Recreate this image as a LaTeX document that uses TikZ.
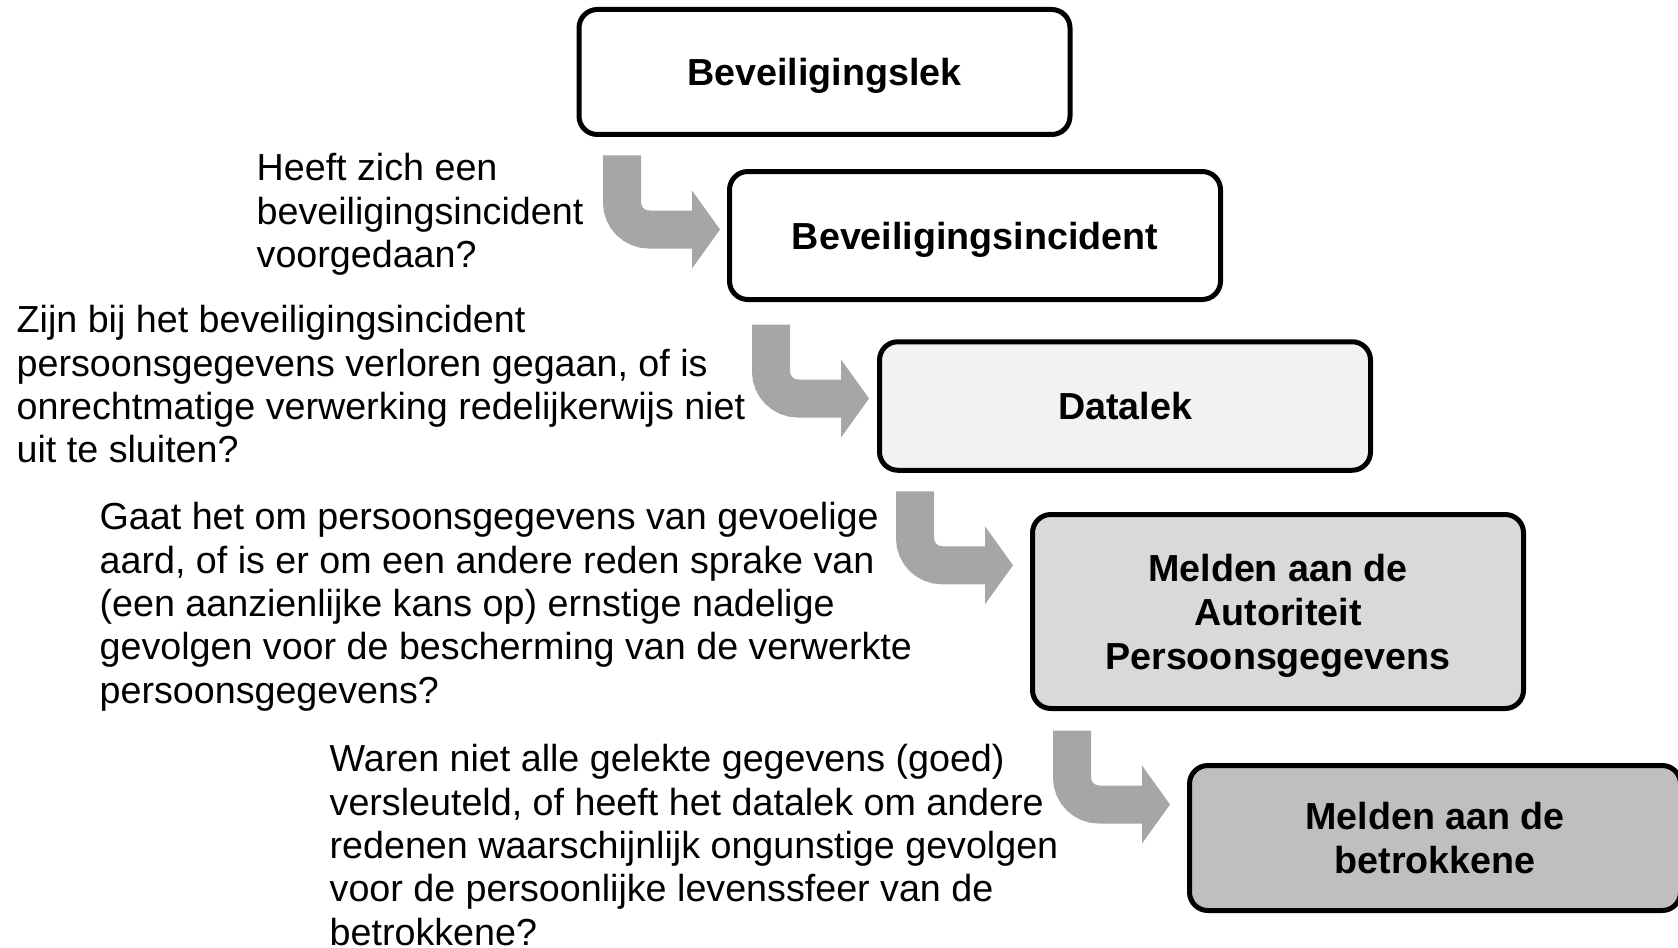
\documentclass[tikz,border=0pt]{standalone}
\usepackage{fontspec}
\setmainfont{Liberation Sans}
\usepackage{xcolor}
\usetikzlibrary{calc,positioning}
\definecolor{arrowgray}{HTML}{A6A6A6}
\definecolor{fillone}{HTML}{F2F2F2}
\definecolor{filltwo}{HTML}{D9D9D9}
\definecolor{fillthree}{HTML}{BFBFBF}
\tikzstyle{stepbox} = [rectangle, rounded corners=5.5pt, minimum width=147.3pt, text centered, align=center, text depth=0pt, draw=black, line width=1.5pt, fill=white, font=\fontsize{11.3pt}{13.2pt}\selectfont\bfseries]
\tikzstyle{question} = [anchor=north west, inner sep=0pt, align=left, font=\fontsize{11.3pt}{13pt}\selectfont]
\tikzstyle{flow} = [draw=arrowgray, line width=11.4pt, rounded corners=8.1pt]
\tikzstyle{flowhead} = [fill=arrowgray]

\begin{document}
\begin{tikzpicture}[x=0.3pt, y=-0.3pt]
    \useasboundingbox (0,0) rectangle (1678,947);
    % Boxes
    \node (lek) [stepbox, minimum height=37.5pt] at (824.5,72) {Beveiligingslek};
    \node (incident) [stepbox, minimum height=38.4pt] at (975,235.5) {Beveiligingsincident};
    \node (datalek) [stepbox, fill=fillone, minimum height=38.55pt] at (1125,406) {Datalek};
    \node (ap) [stepbox, fill=filltwo, minimum height=58.2pt] at (1278,611.5) {Melden aan de\\Autoriteit\\Persoonsgegevens};
    \node (betrokkene) [stepbox, fill=fillthree, minimum height=43.5pt] at (1435,838) {Melden aan de\\betrokkene};

    % Questions
    \node (q1) [question] at (256,153) {Heeft zich een\\beveiligingsincident\\voorgedaan?};
    \node (q2) [question] at (16,305) {Zijn bij het beveiligingsincident\\persoonsgegevens verloren gegaan, of is\\onrechtmatige verwerking redelijkerwijs niet\\uit te sluiten?};
    \node (q3) [question] at (99,502) {Gaat het om persoonsgegevens van gevoelige\\aard, of is er om een andere reden sprake van\\(een aanzienlijke kans op) ernstige nadelige\\gevolgen voor de bescherming van de verwerkte\\persoonsgegevens?};
    \node (q4) [question] at (329,744) {Waren niet alle gelekte gegevens (goed)\\versleuteld, of heeft het datalek om andere\\redenen waarschijnlijk ongunstige gevolgen\\voor de persoonlijke levenssfeer van de\\betrokkene?};

    % Arrows
    \coordinate (a1) at ($(lek.south west)+(45.5,18.5)$);
    \coordinate (a2) at ($(incident.south west)+(44,22.5)$);
    \coordinate (a3) at ($(datalek.south west)+(38,18.5)$);
    \coordinate (a4) at ($(ap.south west)+(42,19.5)$);
    \draw [flow] (a1) |- ($(a1)+(70.5,74)$);
    \fill [flowhead] ($(a1)+(70,35)$) -- ($(a1)+(98,74)$) -- ($(a1)+(70,113)$) -- cycle;
    \draw [flow] (a2) |- ($(a2)+(70.5,74)$);
    \fill [flowhead] ($(a2)+(70,35)$) -- ($(a2)+(98,74)$) -- ($(a2)+(70,113)$) -- cycle;
    \draw [flow] (a3) |- ($(a3)+(70.5,74)$);
    \fill [flowhead] ($(a3)+(70,35)$) -- ($(a3)+(98,74)$) -- ($(a3)+(70,113)$) -- cycle;
    \draw [flow] (a4) |- ($(a4)+(70.5,74)$);
    \fill [flowhead] ($(a4)+(70,35)$) -- ($(a4)+(98,74)$) -- ($(a4)+(70,113)$) -- cycle;

\end{tikzpicture}
\end{document}
